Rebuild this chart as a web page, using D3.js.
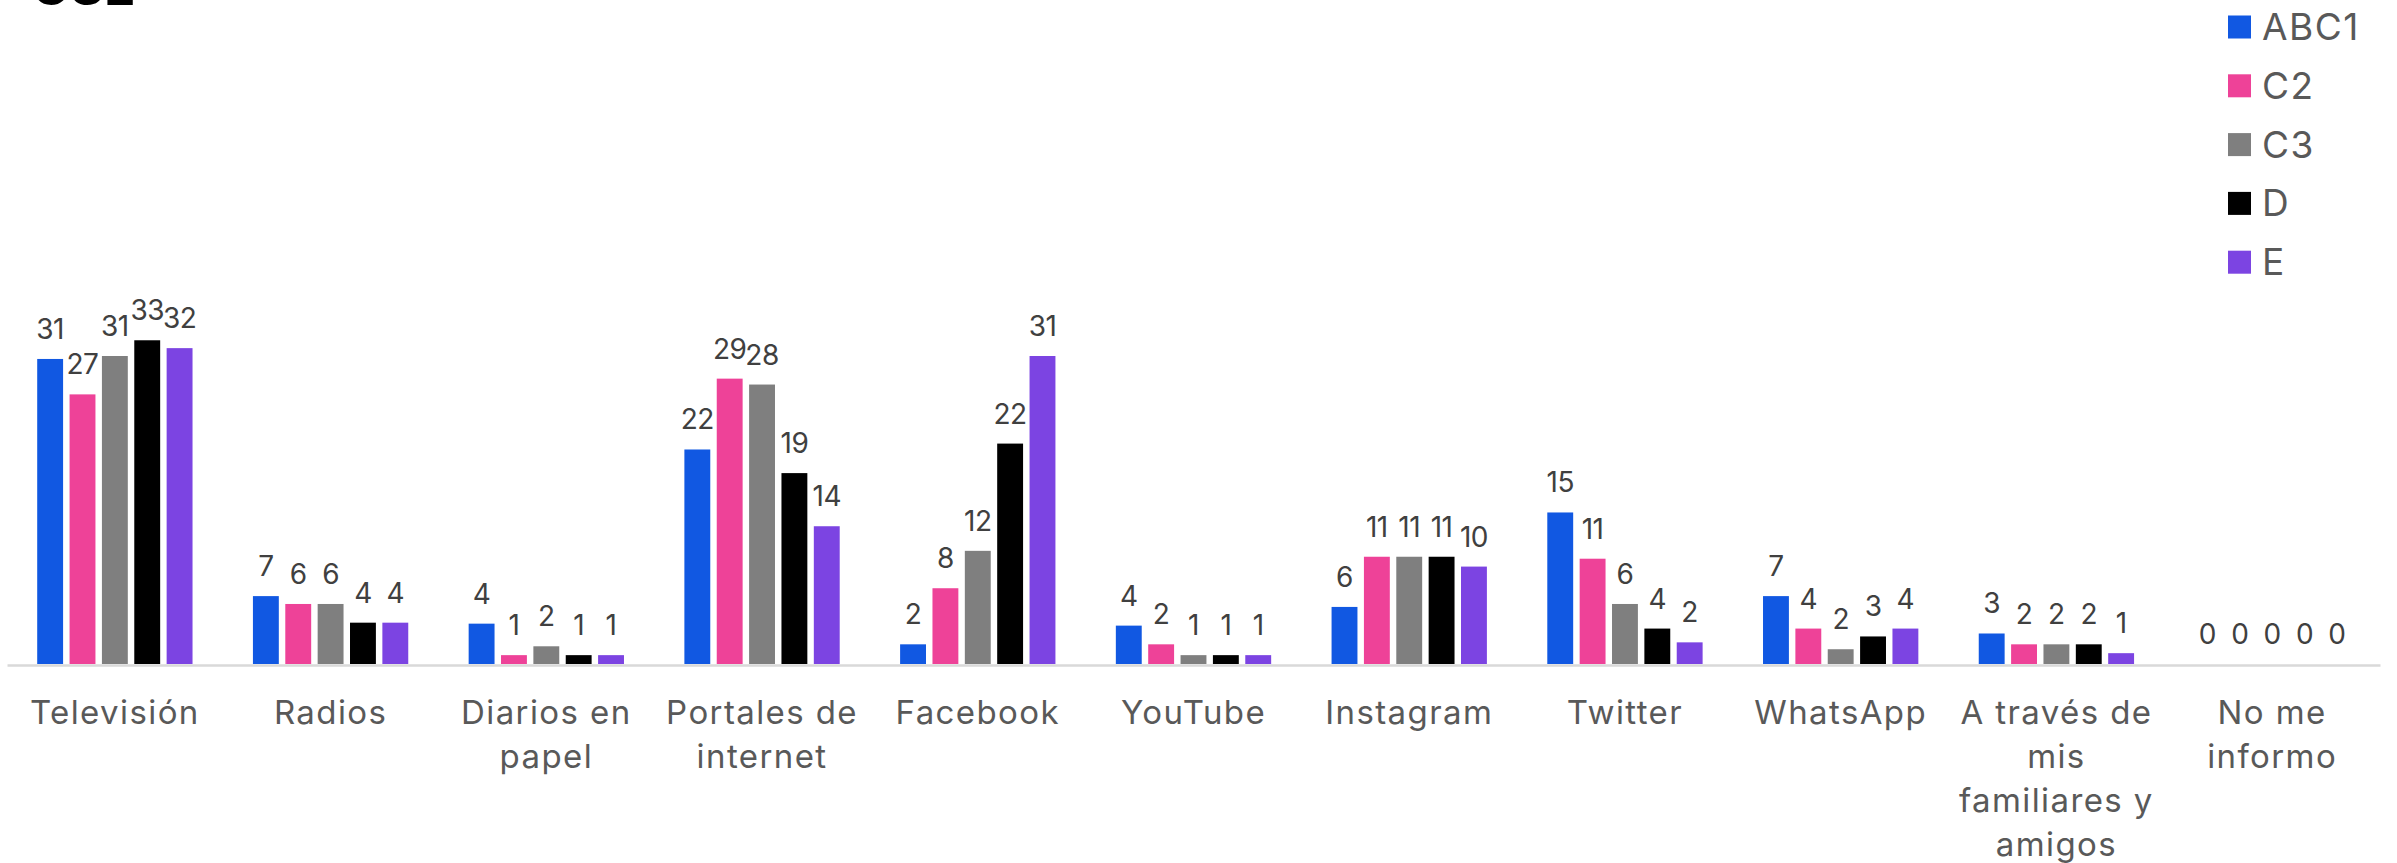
<!DOCTYPE html>
<html>
<head>
<meta charset="utf-8">
<script src="https://cdn.jsdelivr.net/npm/d3@7"></script>
<style>
  html, body { margin: 0; padding: 0; background: #ffffff; }
  svg { display: block; }
</style>
</head>
<body>
<svg id="chart" width="2397" height="863"></svg>
<script>
const title = "GSE";
const categories = [
  "Televisión", "Radios", "Diarios en\npapel", "Portales de\ninternet", "Facebook",
  "YouTube", "Instagram", "Twitter", "WhatsApp",
  "A través de\nmis\nfamiliares y\namigos", "No me\ninformo"
];
const seriesNames = ["ABC1", "C2", "C3", "D", "E"];
const seriesColors = ["#1158E2", "#EE4298", "#7F7F7F", "#000000", "#7C44E2"];
const valuesABC1 = [31.0, 6.9, 4.1, 21.8, 2.0, 3.9, 5.8, 15.4, 6.9, 3.1, 0];
const valuesC2   = [27.4, 6.1, 0.9, 29.0, 7.7, 2.0, 10.9, 10.7, 3.6, 2.0, 0];
const valuesC3   = [31.3, 6.1, 1.8, 28.4, 11.5, 0.9, 10.9, 6.1, 1.5, 2.0, 0];
const valuesD    = [32.9, 4.2, 0.9, 19.4, 22.4, 0.9, 10.9, 3.6, 2.8, 2.0, 0];
const valuesE    = [32.1, 4.2, 0.9, 14.0, 31.3, 0.9, 9.9, 2.2, 3.6, 1.1, 0];
const seriesValues = [valuesABC1, valuesC2, valuesC3, valuesD, valuesE];

const svg = d3.select("#chart");
const fontFam = "Inter, Roboto, 'Noto Sans', sans-serif";

const x0 = d3.scaleBand().domain(categories).range([7, 2380]).paddingInner(0.25).paddingOuter(0.125);
const x1 = d3.scaleBand().domain(seriesNames).range([0, x0.bandwidth()]).paddingInner(0.2).paddingOuter(0.1);
const y = d3.scaleLinear().domain([0, 35]).range([664, 664 - 35 * 9.84]);
const color = d3.scaleOrdinal().domain(seriesNames).range(seriesColors);

// Title (cut at top)
svg.append("text").attr("x", 31).attr("y", 5)
  .attr("font-family", fontFam).attr("font-weight", 700).attr("font-size", 52)
  .attr("fill", "#000").text(title);

// Bars
const groups = svg.append("g").selectAll("g").data(categories).join("g")
  .attr("transform", d => `translate(${x0(d)},0)`);

groups.selectAll("rect")
  .data((d, i) => seriesNames.map((s, j) => ({ s, v: seriesValues[j][i] })))
  .join("rect")
  .attr("x", d => x1(d.s))
  .attr("width", x1.bandwidth())
  .attr("y", d => y(d.v))
  .attr("height", d => y(0) - y(d.v))
  .attr("fill", d => color(d.s));

// Axis line
const axis = d3.axisBottom(x0).tickSize(0).tickFormat("");
const ag = svg.append("g").attr("transform", `translate(0,${y(0) + 1})`).call(axis);
ag.select(".domain").attr("stroke", "#d9d9d9").attr("stroke-width", 2.5);

// Value labels
groups.selectAll("text.val")
  .data((d, i) => seriesNames.map((s, j) => ({ s, v: seriesValues[j][i] })))
  .join("text").attr("class", "val")
  .attr("x", d => x1(d.s) + x1.bandwidth() / 2)
  .attr("y", d => y(d.v) - 20)
  .attr("text-anchor", "middle")
  .attr("font-family", fontFam).attr("font-size", 28).attr("font-weight", 400)
  .attr("letter-spacing", -0.5)
  .attr("fill", "#404040")
  .text(d => d3.format(".0f")(d.v));

// Category labels
const cl = svg.append("g").selectAll("text").data(categories).join("text")
  .attr("x", d => x0(d) + x0.bandwidth() / 2)
  .attr("y", 724)
  .attr("text-anchor", "middle")
  .attr("font-family", fontFam).attr("font-size", 33).attr("font-weight", 400)
  .attr("letter-spacing", 1.4)
  .attr("fill", "#595959");
cl.each(function(d) {
  const t = d3.select(this);
  d.split("\n").forEach((line, k) => {
    t.append("tspan").attr("x", x0(d) + x0.bandwidth() / 2)
      .attr("dy", k === 0 ? 0 : 44).text(line);
  });
});

// Legend
const lg = svg.append("g").selectAll("g").data(seriesNames).join("g")
  .attr("transform", (d, i) => `translate(2228, ${27 + i * 58.8})`);
lg.append("rect").attr("x", 0).attr("y", -11.5).attr("width", 23).attr("height", 23)
  .attr("fill", d => color(d));
lg.append("text").attr("x", 34).attr("y", 13)
  .attr("font-family", fontFam).attr("font-size", 37).attr("font-weight", 400)
  .attr("letter-spacing", 1.5)
  .attr("fill", "#595959").text(d => d);
</script>
</body>
</html>
